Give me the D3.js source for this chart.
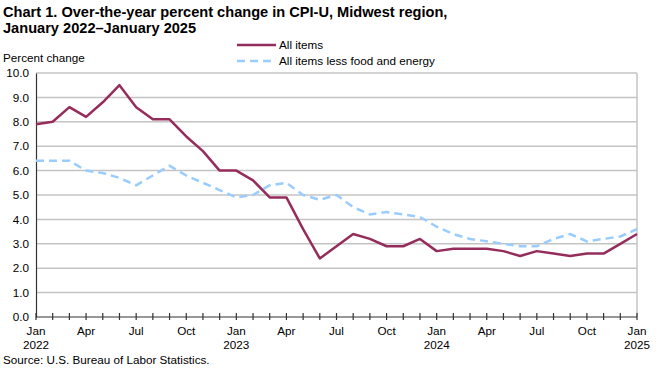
<!DOCTYPE html>
<html><head><meta charset="utf-8">
<script src="https://cdn.jsdelivr.net/npm/d3@7"></script>
<style>body{margin:0;background:#fff}svg{display:block}text{font-family:"Liberation Sans",Arial,sans-serif}</style>
</head><body>
<script>
const months = ["Jan","Feb","Mar","Apr","May","Jun","Jul","Aug","Sep","Oct","Nov","Dec"];
const startYear = 2022;
const allItems = [7.9,8.0,8.6,8.2,8.8,9.5,8.6,8.1,8.1,7.4,6.8,6.0,
  6.0,5.6,4.9,4.9,3.6,2.4,2.9,3.4,3.2,2.9,2.9,3.2,
  2.7,2.8,2.8,2.8,2.7,2.5,2.7,2.6,2.5,2.6,2.6,3.0,
  3.4];
const core = [6.4,6.4,6.4,6.0,5.9,5.7,5.4,5.8,6.2,5.8,5.5,5.2,
  4.9,5.0,5.4,5.5,5.0,4.8,5.0,4.5,4.2,4.3,4.2,4.1,
  3.7,3.4,3.2,3.1,3.0,2.9,2.9,3.2,3.4,3.1,3.2,3.3,
  3.6];
const yTicks = [0,1,2,3,4,5,6,7,8,9,10];
const labeledMonths = [0,3,6,9];
const seriesNames = ["All items","All items less food and energy"];

const W=660,H=369, fs=11.7;
const svg=d3.select("body").append("svg").attr("width",W).attr("height",H);
const x=d3.scaleLinear().domain([0,allItems.length-1]).range([36,637]);
const y=d3.scaleLinear().domain([0,10]).range([317,73]);

// title
const t=svg.append("text").attr("x",3).attr("font-size",14.6).attr("font-weight","bold").attr("fill","#000");
t.append("tspan").attr("x",3).attr("y",17).text("Chart 1. Over-the-year percent change in CPI-U, Midwest region,");
t.append("tspan").attr("x",3).attr("y",33).text("January 2022\u2013January 2025");

svg.append("text").attr("x",3).attr("y",62).attr("font-size",fs).text("Percent change");

// grid
const g=svg.append("g");
g.selectAll("line.grid").data(yTicks.filter(d=>d>0)).join("line")
  .attr("x1",36).attr("x2",637).attr("y1",d=>y(d)).attr("y2",d=>y(d))
  .attr("stroke","#c4c4c4").attr("stroke-width",1.5);
g.append("line").attr("x1",637).attr("x2",637).attr("y1",y(10)).attr("y2",y(0)).attr("stroke","#c4c4c4").attr("stroke-width",1.5);

// y axis
const ya=svg.append("g").attr("transform","translate(36,0)").call(d3.axisLeft(y).tickValues(yTicks).tickFormat(d3.format(".1f")).tickSize(0).tickPadding(7));
ya.select(".domain").attr("stroke","#333").attr("stroke-width",1.2);
ya.selectAll("text").attr("font-size",fs).attr("fill","#000").attr("font-family","Liberation Sans, Arial, sans-serif");

// x axis
const xa=svg.append("g").attr("transform","translate(0,"+y(0)+")");
xa.append("line").attr("x1",36).attr("x2",637).attr("stroke","#333").attr("stroke-width",1.2);
xa.selectAll("line.tick").data(d3.range(allItems.length)).join("line")
  .attr("x1",d=>x(d)).attr("x2",d=>x(d)).attr("y1",-4).attr("y2",3).attr("stroke","#333").attr("stroke-width",1.2);
xa.selectAll("text.m").data(d3.range(allItems.length).filter(i=>labeledMonths.includes(i%12))).join("text")
  .attr("x",d=>x(d)).attr("y",18).attr("text-anchor","middle").attr("font-size",fs).text(d=>months[d%12]);
xa.selectAll("text.yr").data(d3.range(allItems.length).filter(i=>i%12===0)).join("text")
  .attr("x",d=>x(d)).attr("y",32).attr("text-anchor","middle").attr("font-size",fs).text(d=>startYear+d/12);

// lines
const line=d3.line().x((d,i)=>x(i)).y(d=>y(d));
svg.append("path").datum(core).attr("d",line).attr("fill","none").attr("stroke","#99ccff").attr("stroke-width",2.5).attr("stroke-dasharray","8,5");
svg.append("path").datum(allItems).attr("d",line).attr("fill","none").attr("stroke","#952c5b").attr("stroke-width",2.5).attr("stroke-linejoin","round");

// legend
const lg=svg.append("g");
lg.append("line").attr("x1",237).attr("x2",276).attr("y1",45).attr("y2",45).attr("stroke","#952c5b").attr("stroke-width",2.5);
lg.append("line").attr("x1",237).attr("x2",276).attr("y1",61).attr("y2",61).attr("stroke","#99ccff").attr("stroke-width",2.5).attr("stroke-dasharray","8,5");
lg.append("text").attr("x",279).attr("y",49).attr("font-size",fs).text(seriesNames[0]);
lg.append("text").attr("x",279).attr("y",65).attr("font-size",fs).text(seriesNames[1]);

svg.append("text").attr("x",3).attr("y",364).attr("font-size",fs).text("Source: U.S. Bureau of Labor Statistics.");
</script>
</body></html>
